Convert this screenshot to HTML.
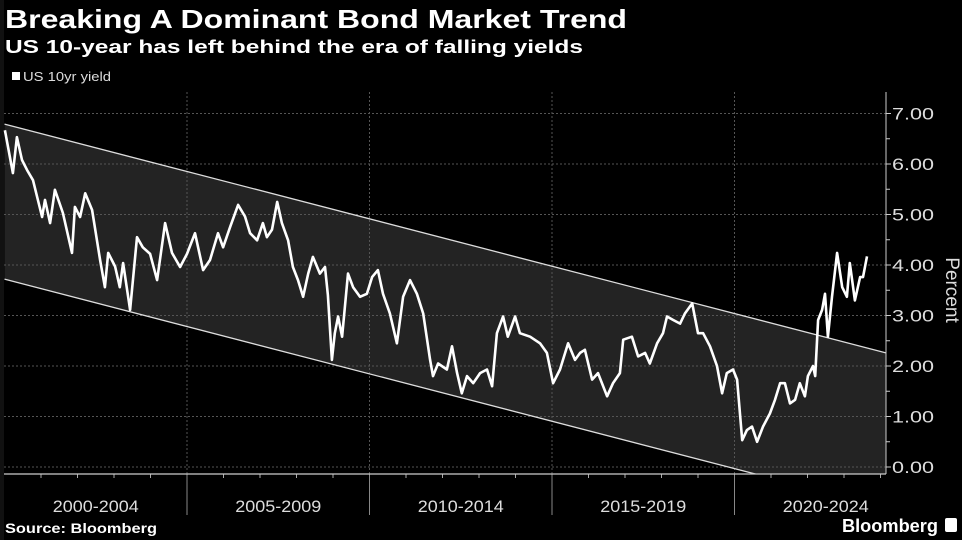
<!DOCTYPE html>
<html><head><meta charset="utf-8"><style>
html,body{margin:0;padding:0;background:#000;}
svg{display:block;font-family:"Liberation Sans",sans-serif;}
</style></head><body>
<svg id="chart" width="962" height="540" viewBox="0 0 962 540">
<rect x="0" y="0" width="962" height="540" fill="#000"/>
<rect x="0" y="0" width="4" height="540" fill="#111"/>
<text x="5" y="28" font-size="26" font-weight="bold" fill="#fff" textLength="622" lengthAdjust="spacingAndGlyphs">Breaking A Dominant Bond Market Trend</text>
<text x="5" y="53" font-size="18" font-weight="bold" fill="#fff" textLength="578" lengthAdjust="spacingAndGlyphs">US 10-year has left behind the era of falling yields</text>
<g>
<rect x="12" y="72" width="8" height="8" fill="#fff"/>
<text x="23" y="81" font-size="13" fill="#ddd" textLength="88" lengthAdjust="spacingAndGlyphs">US 10yr yield</text>
</g>
<g id="plot"></g>
<text x="5" y="533" font-size="14" font-weight="bold" fill="#fff" textLength="152" lengthAdjust="spacingAndGlyphs">Source: Bloomberg</text>
<text x="842" y="532" font-size="18" font-weight="bold" fill="#fff" textLength="96" lengthAdjust="spacingAndGlyphs">Bloomberg</text>
<rect x="945" y="518" width="12" height="14" rx="2" fill="#fff"/>
</svg>
<script>
const yearOffsets=[0.01,0.23,0.34,0.48,0.62,0.78,1.03,1.11,1.25,1.38,1.60,1.85,1.93,2.07,2.21,2.40,2.62,2.75,2.84,3.03,3.16,3.25,3.44,3.63,3.79,3.99,4.18,4.40,4.59,4.81,5.00,5.22,5.44,5.63,5.85,5.99,6.18,6.40,6.59,6.73,6.92,7.08,7.19,7.33,7.47,7.60,7.77,7.90,8.04,8.18,8.32,8.45,8.64,8.78,8.86,8.97,9.05,9.14,9.25,9.41,9.55,9.74,9.93,10.07,10.23,10.37,10.56,10.75,10.92,11.11,11.30,11.47,11.66,11.74,11.88,12.12,12.26,12.40,12.53,12.67,12.84,13.03,13.22,13.36,13.49,13.66,13.79,13.99,14.12,14.40,14.67,14.86,15.03,15.22,15.44,15.63,15.77,15.90,16.10,16.26,16.51,16.67,16.86,16.95,17.19,17.36,17.55,17.68,17.88,18.04,18.15,18.32,18.51,18.64,18.84,19.00,19.14,19.33,19.52,19.66,19.79,19.96,20.07,20.21,20.34,20.48,20.62,20.78,20.97,21.11,21.25,21.38,21.52,21.66,21.79,21.93,22.01,22.15,22.21,22.29,22.40,22.48,22.56,22.67,22.81,22.95,23.08,23.16,23.30,23.44,23.52,23.63];
const yields=[6.67,5.82,6.53,6.08,5.88,5.68,4.95,5.29,4.83,5.49,5.03,4.24,5.15,4.95,5.42,5.09,4.10,3.56,4.24,3.97,3.56,4.04,3.11,4.55,4.35,4.22,3.70,4.83,4.24,3.96,4.22,4.63,3.90,4.10,4.63,4.35,4.75,5.19,4.96,4.63,4.49,4.83,4.55,4.70,5.25,4.83,4.49,3.96,3.70,3.37,3.83,4.16,3.83,3.96,3.40,2.12,2.65,2.98,2.58,3.83,3.56,3.37,3.43,3.76,3.90,3.43,3.04,2.45,3.37,3.70,3.43,3.04,2.12,1.80,2.05,1.93,2.39,1.86,1.46,1.80,1.66,1.86,1.93,1.60,2.65,2.98,2.58,2.98,2.65,2.58,2.45,2.26,1.66,1.93,2.45,2.12,2.26,2.32,1.73,1.86,1.40,1.66,1.86,2.52,2.58,2.19,2.26,2.05,2.45,2.65,2.98,2.91,2.84,3.04,3.24,2.65,2.65,2.39,2.00,1.46,1.86,1.93,1.73,0.53,0.73,0.80,0.50,0.80,1.06,1.33,1.66,1.66,1.26,1.33,1.66,1.40,1.80,2.00,1.80,2.91,3.11,3.43,2.58,3.37,4.24,3.56,3.37,4.04,3.30,3.76,3.76,4.17];
const channelYears=[2000,2024.15];
const channelUpper=[6.79,2.26];
const channelLower=[3.72,-0.81];
const yTicks=[0,1,2,3,4,5,6,7];
const yTickLabels=["0.00","1.00","2.00","3.00","4.00","5.00","6.00","7.00"];
const categories=["2000-2004","2005-2009","2010-2014","2015-2019","2020-2024"];
const categoryStarts=[2000,2005,2010,2015,2020];

const NS="http://www.w3.org/2000/svg";
const plot=document.getElementById('plot');
const X0=4.5,PXY=36.5,PL=4,PR=886,PT=92,PB=474;
const xS=y=>X0+(y-2000)*PXY;
const yS=v=>467-v*50.5;
function mk(tag,attrs){const e=document.createElementNS(NS,tag);for(const k in attrs)e.setAttribute(k,attrs[k]);plot.appendChild(e);return e;}

const defs=mk('defs',{});
const cp=document.createElementNS(NS,'clipPath');cp.setAttribute('id','pc');
const cr=document.createElementNS(NS,'rect');cr.setAttribute('x',PL);cr.setAttribute('y',PT);cr.setAttribute('width',PR-PL);cr.setAttribute('height',PB-PT);
cp.appendChild(cr);defs.appendChild(cp);

const band=mk('polygon',{points:`${xS(channelYears[0])},${yS(channelUpper[0])} ${xS(channelYears[1])},${yS(channelUpper[1])} ${xS(channelYears[1])},${yS(channelLower[1])} ${xS(channelYears[0])},${yS(channelLower[0])}`,fill:'#232323','clip-path':'url(#pc)'});



yTicks.forEach((t,i)=>{
  const g=mk('line',{x1:PL,x2:PR,y1:yS(t),y2:yS(t),stroke:'#555','stroke-width':1,'stroke-dasharray':'2,2'});
  
  
  const tk=mk('line',{x1:PR,x2:PR+5,y1:yS(t),y2:yS(t),stroke:'#ccc','stroke-width':1});
  
  
  if(t<7){const mt=mk('line',{x1:PR,x2:PR+4,y1:yS(t+0.5),y2:yS(t+0.5),stroke:'#ccc','stroke-width':1});
  
  }
  const lb=mk('text',{x:PR+6,y:yS(t)+6,'font-size':17,fill:'#ddd',textLength:42,lengthAdjust:'spacingAndGlyphs'});lb.textContent=yTickLabels[i];
  
  
});
categoryStarts.forEach((s,i)=>{
  if(i>0){const v=mk('line',{x1:xS(s),x2:xS(s),y1:PT,y2:PB,stroke:'#555','stroke-width':1,'stroke-dasharray':'2,2'});
  
  
  const sp=mk('line',{x1:xS(s),x2:xS(s),y1:PB,y2:515,stroke:'#888','stroke-width':1});
  
  }
  for(let k=1;k<5;k++){const m=mk('line',{x1:xS(s+k),x2:xS(s+k),y1:PB,y2:PB+4,stroke:'#aaa','stroke-width':1});
  
  }
  const lb=mk('text',{x:xS(s+2.5),y:512,'font-size':17,fill:'#ddd','text-anchor':'middle',textLength:86,lengthAdjust:'spacingAndGlyphs'});lb.textContent=categories[i];
  
  
});
[channelUpper,channelLower].forEach((arr,i)=>{
  const l=mk('line',{x1:xS(channelYears[0]),y1:yS(arr[0]),x2:xS(channelYears[1]),y2:yS(arr[1]),stroke:'#ddd','stroke-width':1.3,'clip-path':'url(#pc)'});
  
  
});
const xa=mk('line',{x1:PL,x2:PR,y1:PB,y2:PB,stroke:'#ccc','stroke-width':1.2});


const ya=mk('line',{x1:PR,x2:PR,y1:PT,y2:PB,stroke:'#ccc','stroke-width':1});


const pts=yearOffsets.map((o,i)=>`${xS(2000+o).toFixed(1)},${yS(yields[i]).toFixed(1)}`).join(' ');
const sl=mk('polyline',{points:pts,fill:'none',stroke:'#fff','stroke-width':2.6,'stroke-linejoin':'round'});


const yt=mk('text',{x:0,y:0,'font-size':19,fill:'#ddd','text-anchor':'middle',transform:'translate(946,290) rotate(90)'});
yt.textContent='Percent';


</script>
</body></html>
